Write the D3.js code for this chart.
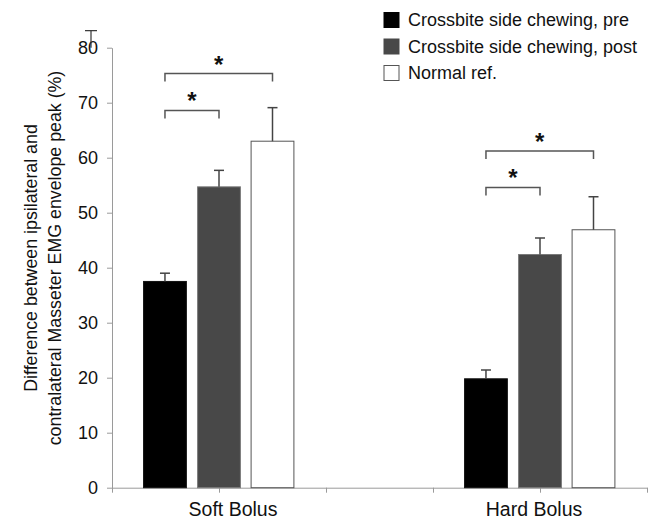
<!DOCTYPE html>
<html><head><meta charset="utf-8">
<script src="https://cdn.jsdelivr.net/npm/d3@7/dist/d3.min.js"></script>
<style>body{margin:0;background:#fff}svg{display:block}text{font-family:"Liberation Sans",Arial,sans-serif}</style>
</head><body><svg id="c" width="652" height="520"></svg>
<script>
const groups = ["Soft Bolus", "Hard Bolus"];
const series = ["Crossbite side chewing, pre", "Crossbite side chewing, post", "Normal ref."];
const preVals = [37.5, 19.8];
const postVals = [54.7, 42.4];
const normVals = [63.0, 46.9];
const preErr = [1.5, 1.6];
const postErr = [3.0, 3.0];
const normErr = [6.1, 6.0];
const yTicks = [0, 10, 20, 30, 40, 50, 60, 70, 80];
// significance brackets: group index, from series, to series, level (value)
const brackets = [
  {g: 0, a: 0, b: 1, v: 68.6},
  {g: 0, a: 0, b: 2, v: 75.3},
  {g: 1, a: 0, b: 1, v: 54.6},
  {g: 1, a: 0, b: 2, v: 61.2}
];
const groupPos = [1, 4]; // positions on a 0..5 category axis
const strayBar = {v: 80, e: 3.1};

const vals = [preVals, postVals, normVals];
const errs = [preErr, postErr, normErr];
const fills = ["#000000", "#484848", "#ffffff"];
const strokes = ["#111", "#7a7a7a", "#555"];

const svg = d3.select("#c");
const x = d3.scaleLinear().domain([0, 5]).range([112, 647]);
const y = d3.scaleLinear().domain([0, 80]).range([487.7, 47.7]);
const off = [-0.505, 0, 0.5];
const bw = 0.4;
const labelShift = [14, -6];
const axisCol = "#9a9a9a";

// y axis
const ya = svg.append("g").attr("transform", `translate(${x(0)},0)`)
  .call(d3.axisLeft(y).tickValues(yTicks).tickSize(5).tickPadding(9).tickSizeOuter(0));
ya.select(".domain").attr("stroke", axisCol);
ya.selectAll(".tick line").attr("stroke", axisCol);
ya.selectAll(".tick text").attr("font-size", 18).attr("fill", "#111");

// x axis
const xa = svg.append("g").attr("transform", `translate(0,${y(0)})`)
  .call(d3.axisBottom(x).tickValues([0,1,2,3,4,5]).tickSize(5).tickFormat("").tickSizeOuter(0));
xa.select(".domain").attr("stroke", axisCol);
xa.selectAll(".tick line").attr("stroke", axisCol);
svg.append("g").selectAll("text").data(groups).join("text")
  .attr("x", (d, i) => x(groupPos[i]) + labelShift[i]).attr("y", 516)
  .attr("text-anchor", "middle").attr("font-size", 19.5).attr("fill", "#111").text(d => d);

// bars
series.forEach((s, si) => {
  const g = svg.append("g");
  g.selectAll("rect").data(vals[si]).join("rect")
    .attr("x", (d, i) => x(groupPos[i] + off[si] - bw / 2))
    .attr("width", x(bw) - x(0))
    .attr("y", d => y(d)).attr("height", d => y(0) - y(d))
    .attr("fill", fills[si]).attr("stroke", strokes[si]).attr("stroke-width", 1);
  // error bars
  const eg = svg.append("g").attr("stroke", "#444").attr("stroke-width", 1.5);
  vals[si].forEach((v, i) => {
    const cx = x(groupPos[i] + off[si]);
    eg.append("line").attr("x1", cx).attr("x2", cx).attr("y1", y(v)).attr("y2", y(v + errs[si][i]));
    eg.append("line").attr("x1", cx - 5).attr("x2", cx + 5).attr("y1", y(v + errs[si][i])).attr("y2", y(v + errs[si][i]));
  });
});

// stray error bar near the 80 label
{
  const cx = 91;
  const eg = svg.append("g").attr("stroke", "#333").attr("stroke-width", 1.2);
  eg.append("line").attr("x1", cx).attr("x2", cx).attr("y1", y(strayBar.v)).attr("y2", y(strayBar.v + strayBar.e));
  eg.append("line").attr("x1", cx - 6).attr("x2", cx + 6).attr("y1", y(strayBar.v + strayBar.e)).attr("y2", y(strayBar.v + strayBar.e));
}

// brackets
const bg = svg.append("g");
brackets.forEach(b => {
  const x1 = x(groupPos[b.g] + off[b.a]);
  const x2 = x(groupPos[b.g] + off[b.b]);
  const yy = y(b.v);
  bg.append("path").attr("d", `M${x1},${yy + 8}V${yy}H${x2}V${yy + 8}`)
    .attr("fill", "none").attr("stroke", "#555").attr("stroke-width", 1.5);
  bg.append("text").attr("x", (x1 + x2) / 2).attr("y", yy - 1)
    .attr("text-anchor", "middle").attr("font-size", 24).attr("font-weight", "bold").attr("fill", "#111").text("*");
});

// legend
const lg = svg.append("g");
series.forEach((s, i) => {
  const cy = 20 + i * 26.5;
  lg.append("rect").attr("x", 384).attr("y", cy - 7.5).attr("width", 15).attr("height", 15)
    .attr("fill", fills[i]).attr("stroke", i === 2 ? "#555" : fills[i]).attr("stroke-width", 1);
  lg.append("text").attr("x", 408).attr("y", cy).attr("dy", "0.35em")
    .attr("font-size", 18).attr("fill", "#111").text(s);
});

// y title
const tt = svg.append("g").attr("transform", "translate(0,258) rotate(-90)");
tt.append("text").attr("x", 0).attr("y", 31).attr("dy", "0.35em").attr("text-anchor", "middle")
  .attr("font-size", 17.8).attr("fill", "#111").text("Difference between ipsilateral and");
tt.append("text").attr("x", 0).attr("y", 55).attr("dy", "0.35em").attr("text-anchor", "middle")
  .attr("font-size", 17.8).attr("fill", "#111").text("contralateral Masseter EMG envelope peak (%)");
</script></body></html>
